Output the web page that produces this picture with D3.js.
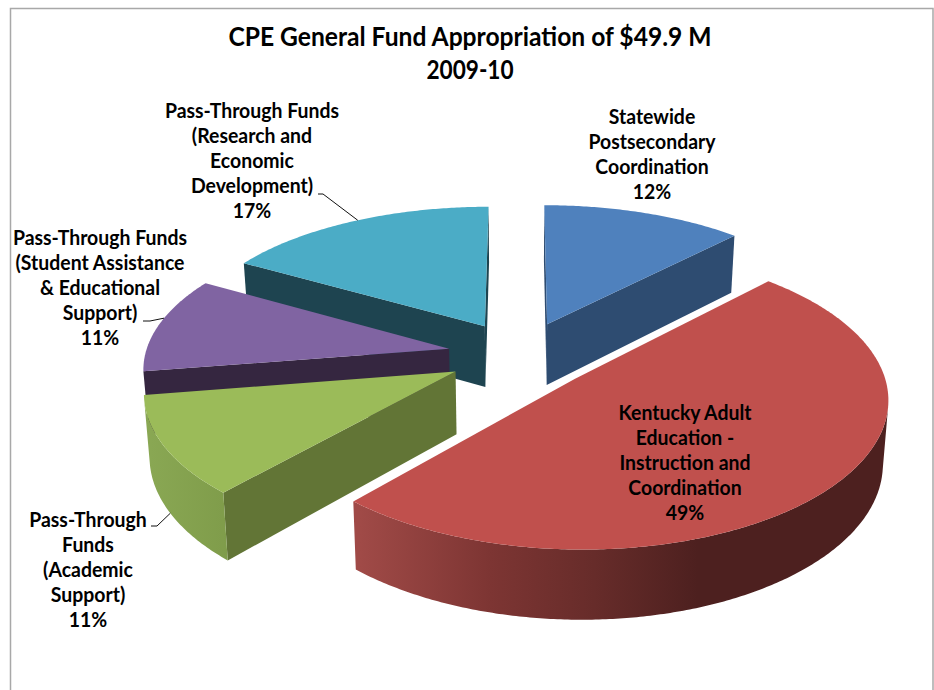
<!DOCTYPE html>
<html><head><meta charset="utf-8">
<script src="https://cdn.jsdelivr.net/npm/d3@7"></script>
<style>html,body{margin:0;padding:0;background:#fff}svg{display:block}
text{font-family:Lato,"Open Sans",sans-serif;font-weight:700;fill:#000;text-anchor:middle}</style>
</head><body><svg id="c" width="934" height="690"></svg>
<script>
const titleLines = ["CPE General Fund Appropriation of $49.9 M", "2009-10"];
const titleFit = [0.947, 0.87];
const categories = [
  ["Statewide","Postsecondary","Coordination"],
  ["Kentucky Adult","Education -","Instruction and","Coordination"],
  ["Pass-Through","Funds","(Academic","Support)"],
  ["Pass-Through Funds","(Student Assistance","& Educational","Support)"],
  ["Pass-Through Funds","(Research and","Economic","Development)"]
];
const values = [12.2, 49.4, 10.9, 10.8, 16.7];
const topColors  = ["#4f81bd","#c0504d","#9bbb59","#8064a2","#4bacc6"];
const faceColors = ["#2e4c71","#4d1f1e","#627536","#352640","#1e4450"];
const labelX = [652, 685, 88, 100, 252];
const labelY = [124, 420, 527, 245, 118];
const leaderElbow = [null, null, [[151,526],[157,526]], [[143,321],[150,321]], [[318,194],[323,194]]];
const leaderAngle = [null, null, 241, 283, 331];

const W = 934, H = 690;
const svg = d3.select("#c");
const Cx = 520.5, Cy = 355, Rx = 304, Ry = 142, perspX = 0.12, perspY = 0.13, explode = 0.24, depth = 62, bottomScale = 0.985;
const xs = d3.scaleLinear().domain([-1,1]).range([Cx-Rx, Cx+Rx]);
const ys = d3.scaleLinear().domain([-1,1]).range([Cy+Ry, Cy-Ry]);

function project(X, Y, bottom) {
  const qx = 1 + perspX * Y, qy = 1 + perspY * Y;
  let x = xs(X / qx), y = ys(Y / qy);
  if (bottom) {
    x = Cx + (x - Cx) * bottomScale;
    y = Cy + (y - Cy) * bottomScale + depth / qy;
  }
  return [x, y];
}
const pie = d3.pie().sort(null).value(d => d);
const arcs = pie(values);
const line = d3.line();

const defs = svg.append("defs");
function gradient(id, x1, x2, stops) {
  const g = defs.append("linearGradient").attr("id", id).attr("gradientUnits","userSpaceOnUse")
    .attr("x1",x1).attr("x2",x2).attr("y1",0).attr("y2",0);
  stops.forEach(s => g.append("stop").attr("offset",s[0]).attr("stop-color",s[1]));
}
gradient("wall1", 360, 880, [[0,"#a04a47"],[0.25,"#7d3533"],[0.45,"#672c2a"],[0.65,"#4d201f"],[1,"#4d201f"]]);
gradient("wall2", 143, 230, [[0,"#8aa854"],[1,"#7f9c4a"]]);
const wallFill = i => (i === 1 || i === 2) ? `url(#wall${i})` : faceColors[i];

svg.append("rect").attr("width",W).attr("height",H).attr("fill","#fff");
svg.append("path").attr("d", line([[10.5,H],[10.5,8.5],[933,8.5],[933,H]]))
  .attr("fill","none").attr("stroke","#a8a8a8").attr("stroke-width",1.5);

const facing = p => d3.polygonArea(p) > 0;
const drawOrder = [4,0,3,2,1];

function pointAt(i, deg, bottom) {
  const a = arcs[i], mid = (a.startAngle + a.endAngle)/2;
  const ex = explode * Math.sin(mid), ey = explode * Math.cos(mid);
  const t = deg * Math.PI / 180;
  return project(ex + Math.sin(t), ey + Math.cos(t), bottom);
}
drawOrder.forEach(i => {
  const a = arcs[i], mid = (a.startAngle + a.endAngle)/2;
  const ex = explode * Math.sin(mid), ey = explode * Math.cos(mid);
  const n = Math.max(2, Math.ceil((a.endAngle - a.startAngle) / 0.01));
  const thetas = d3.range(n + 1).map(k => a.startAngle + (a.endAngle - a.startAngle) * k / n);
  const rim = b => thetas.map(t => project(ex + Math.sin(t), ey + Math.cos(t), b));
  const apex = b => project(ex, ey, b);
  const g = svg.append("g");
  const topRim = rim(false), botRim = rim(true);

  [[apex(false), topRim[0], botRim[0], apex(true)],
   [topRim[n], apex(false), apex(true), botRim[n]]].forEach(q => {
     if (facing(q)) g.append("path").attr("d", line(q) + "Z").attr("fill", faceColors[i]);
  });
  const vis = d3.range(n).filter(k => facing([topRim[k],topRim[k+1],botRim[k+1],botRim[k]]));
  if (vis.length) {
    const from = vis[0], to = vis[vis.length-1] + 1;
    const poly = topRim.slice(from, to+1).concat(botRim.slice(from, to+1).reverse());
    g.append("path").attr("d", line(poly) + "Z").attr("fill", wallFill(i));
  }
  g.append("path").attr("d", line([apex(false), ...topRim]) + "Z").attr("fill", topColors[i]);
});

arcs.forEach((a,i) => {
  if (!leaderElbow[i]) return;
  const end = pointAt(i, leaderAngle[i], i === 2);
  svg.append("path").attr("d", line([...leaderElbow[i], end])).attr("fill","none")
    .attr("stroke","#111").attr("stroke-width",1);
});

function put(str, x, y, size, squeeze) {
  const t = svg.append("text").attr("x",x).attr("y",y).attr("font-size",size).text(str);
  const w = t.node().getComputedTextLength();
  t.attr("textLength", w*squeeze).attr("lengthAdjust","spacingAndGlyphs");
}
titleLines.forEach((s,k) => put(s, 470, 46 + k*33, 26, titleFit[k]));
categories.forEach((lines,i) => {
  lines.concat([Math.round(values[i]) + "%"]).forEach((s,k) => put(s, labelX[i], labelY[i] + k*25, 20, 0.972));
});
</script></body></html>
